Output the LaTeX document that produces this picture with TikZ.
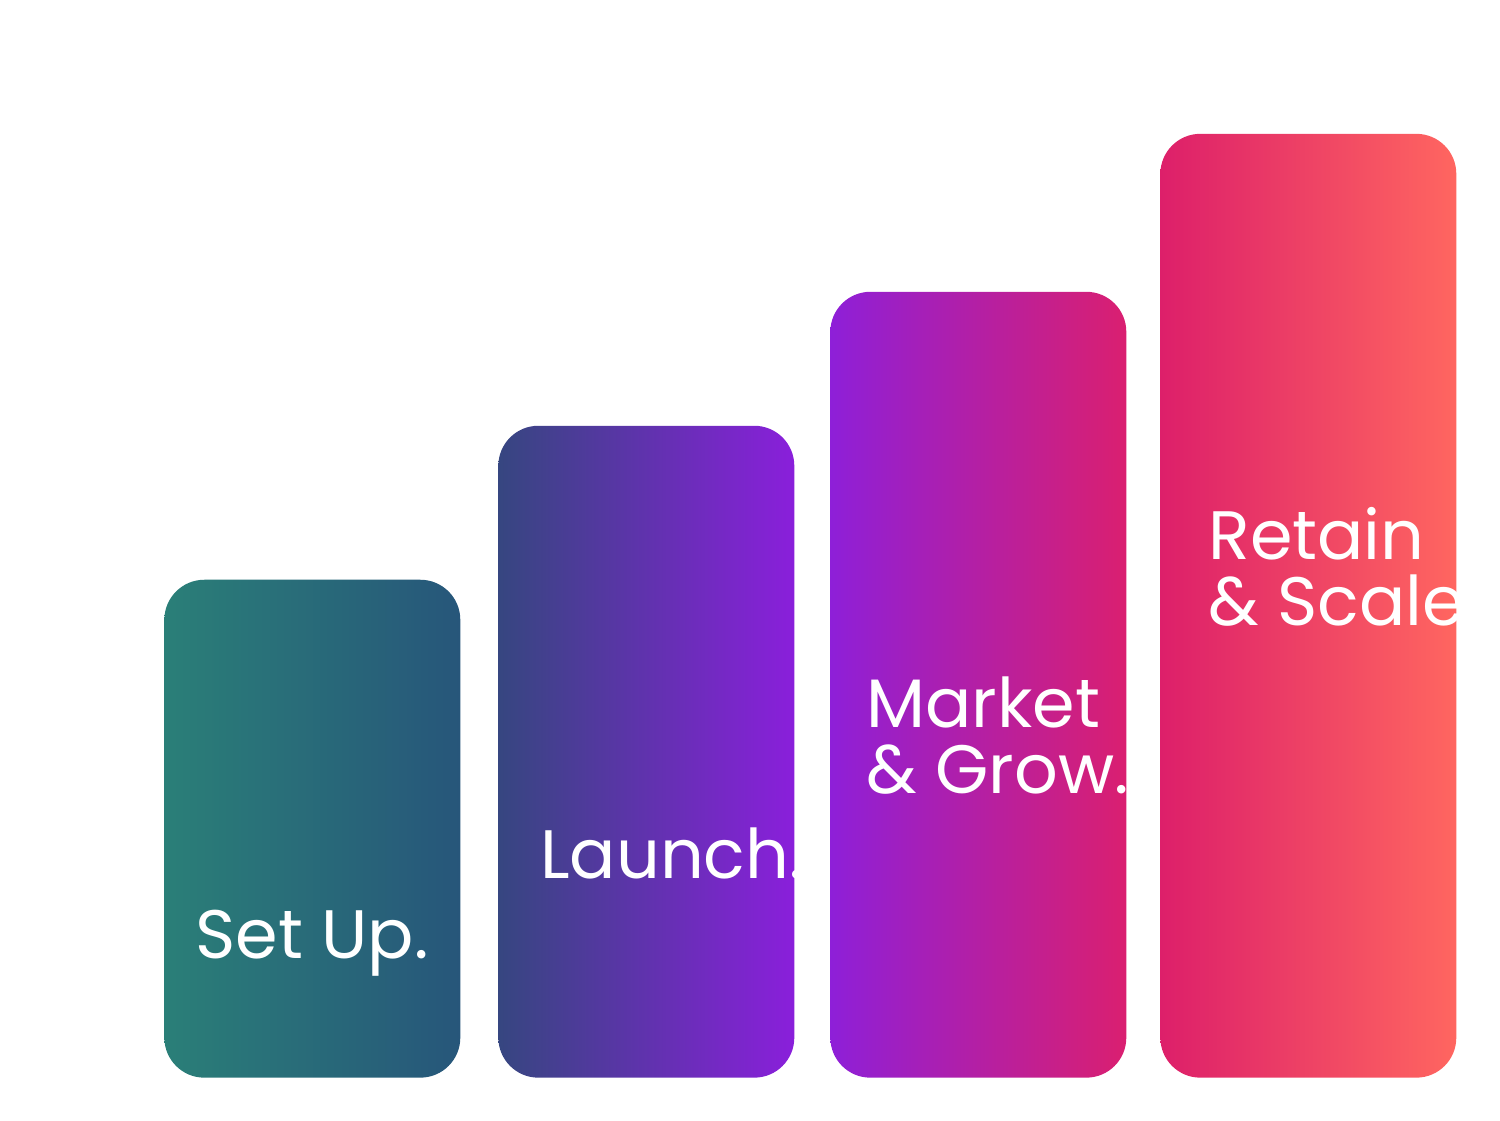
\documentclass[tikz,border=0pt]{standalone}
\usepackage{fontspec}
\setmainfont{Poppins}
\usepackage{tikz}
\usetikzlibrary{positioning}
\definecolor{tealL}{HTML}{2A7F78}
\definecolor{tealR}{HTML}{27567A}
\definecolor{indL}{HTML}{364680}
\definecolor{indR}{HTML}{8A1FDB}
\definecolor{purL}{HTML}{8E1FD8}
\definecolor{purR}{HTML}{DA1F70}
\definecolor{pinkL}{HTML}{DD1F6A}
\definecolor{pinkR}{HTML}{FF6660}
\tikzset{
  bar/.style={rounded corners=0.8cm, anchor=south west, minimum width=5.92cm, inner sep=0pt, shading angle=80},
  barlabel/.style={text=white, align=left, inner sep=0pt, font=\fontsize{39}{37.5}\selectfont}
}
\begin{document}
\begin{tikzpicture}[x=0.02cm, y=0.02cm]
\useasboundingbox (0,0) rectangle (1500,1120);

\node[bar, minimum height=9.96cm, left color=tealL, right color=tealR] (setup) at (164,42) {};
\node[bar, minimum height=13.04cm, left color=indL, right color=indR] (launch) at (498,42) {};
\node[bar, minimum height=15.72cm, left color=purL, right color=purR] (market) at (830,42) {};
\node[bar, minimum height=18.88cm, left color=pinkL, right color=pinkR] (retain) at (1160,42) {};

\node[barlabel, anchor=base] (tsetup) at (312,162) {Set Up.};
\node[barlabel, anchor=base west] (tlaunch) at (540,242) {Launch.};
\node[barlabel, anchor=base west] (tmarket) at (866,327) {Market\\\& Grow.};
\node[barlabel, anchor=base west] (tretain) at (1208,495) {Retain\\\& Scale.};

\end{tikzpicture}
\end{document}
